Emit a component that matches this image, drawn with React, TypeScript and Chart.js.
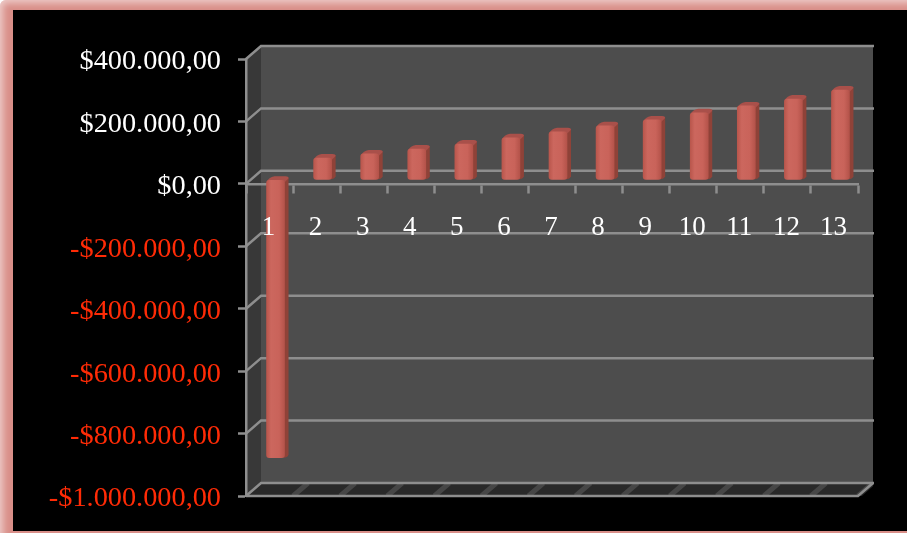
import React, { useEffect, useRef } from "react";
import { Chart, registerables } from "chart.js";

Chart.register(...registerables);

const categories = ["1", "2", "3", "4", "5", "6", "7", "8", "9", "10", "11", "12", "13"];
const seriesValues = [-890000, 70000, 83000, 99000, 115000, 135000, 154000, 173000, 192000, 215000, 237000, 259000, 288000];
const tickValues = [400000, 200000, 0, -200000, -400000, -600000, -800000, -1000000];
const tickLabels = ["$400.000,00", "$200.000,00", "$0,00", "-$200.000,00", "-$400.000,00", "-$600.000,00", "-$800.000,00", "-$1.000.000,00"];

const FONT = "'Liberation Serif', serif";
const GRID = "#8e8e8e";
const DX = 15;
const DY = -13;
const BAR_DX = 6;
const BAR_DY = -4;

const wallsPlugin = {
  id: "walls",
  beforeDraw(chart: any) {
    const { ctx, chartArea: a, scales } = chart;
    const { left: l, right: r, top: t, bottom: b } = a;
    const poly = (pts: number[][], fill: string) => {
      ctx.beginPath();
      pts.forEach((p, i) => (i ? ctx.lineTo(p[0], p[1]) : ctx.moveTo(p[0], p[1])));
      ctx.closePath();
      ctx.fillStyle = fill;
      ctx.fill();
    };
    ctx.save();
    poly([[l + DX, t + DY], [r + DX, t + DY], [r + DX, b + DY], [l + DX, b + DY]], "#4d4d4d");
    poly([[l, t], [l + DX, t + DY], [l + DX, b + DY], [l, b]], "#383838");
    poly([[l, b], [l + DX, b + DY], [r + DX, b + DY], [r, b]], "#292929");
    // floor stripes
    ctx.strokeStyle = "rgba(140,140,140,0.3)";
    ctx.lineWidth = 5;
    ctx.save();
    ctx.beginPath();
    ctx.rect(l, b + DY, r - l + DX, -DY);
    ctx.clip();
    categories.forEach((_, i) => {
      const x = l + ((i + 1) * (r - l)) / categories.length;
      ctx.beginPath();
      ctx.moveTo(x, b);
      ctx.lineTo(x + DX, b + DY);
      ctx.stroke();
    });
    ctx.restore();
    // back wall and side wall gridlines
    ctx.strokeStyle = GRID;
    ctx.lineWidth = 2.5;
    tickValues.forEach((v) => {
      const y = scales.y.getPixelForValue(v);
      ctx.beginPath();
      ctx.moveTo(l, y);
      ctx.lineTo(l + DX, y + DY);
      ctx.lineTo(r + DX + 1, y + DY);
      ctx.stroke();
    });
    ctx.beginPath();
    ctx.moveTo(l, b);
    ctx.lineTo(r, b);
    ctx.lineTo(r + DX, b + DY);
    ctx.stroke();
    ctx.restore();
  },
  beforeDatasetsDraw(chart: any) {
    const { ctx } = chart;
    ctx.save();
    ctx.translate(BAR_DX, BAR_DY);
    chart.getDatasetMeta(0).data.forEach((bar: any) => {
      const { x, y, base, width } = bar;
      const top = Math.min(y, base);
      const bottom = Math.max(y, base);
      const fl = x - width / 2;
      const fr = x + width / 2;
      // side
      ctx.beginPath();
      ctx.moveTo(fr - 1, top);
      ctx.lineTo(fr + 4, top - 3);
      ctx.lineTo(fr + 4, bottom - 3);
      ctx.quadraticCurveTo(fr + 3, bottom, fr - 1, bottom);
      ctx.closePath();
      ctx.fillStyle = "#8f4238";
      ctx.fill();
      // cap
      ctx.beginPath();
      ctx.moveTo(fl, top + 2);
      ctx.quadraticCurveTo(fl + 2, top - 3, fl + 8, top - 4);
      ctx.lineTo(fr + 1, top - 4);
      ctx.quadraticCurveTo(fr + 4, top - 4, fr + 4, top - 2);
      ctx.lineTo(fr, top + 2);
      ctx.closePath();
      ctx.fillStyle = "#a9504a";
      ctx.fill();
    });
  },
  afterDatasetsDraw(chart: any) {
    chart.ctx.restore();
  },
};

export default function App() {
  const ref = useRef<HTMLCanvasElement>(null);
  useEffect(() => {
    const chart = new Chart(ref.current as HTMLCanvasElement, {
      type: "bar",
      data: {
        labels: categories,
        datasets: [
          {
            data: seriesValues,
            barThickness: 18,
            borderRadius: 3,
            borderSkipped: false,
            backgroundColor: (c: any) => {
              const s = c.chart.scales.x;
              const x = s ? s.getPixelForValue(c.dataIndex) : NaN;
              if (!Number.isFinite(x)) return "#c9635a";
              const g = c.chart.ctx.createLinearGradient(x - 9, 0, x + 9, 0);
              g.addColorStop(0, "#b9564c");
              g.addColorStop(0.25, "#cc675e");
              g.addColorStop(0.7, "#c9635a");
              g.addColorStop(1, "#b4534a");
              return g;
            },
          },
        ],
      },
      plugins: [wallsPlugin],
      options: {
        animation: false,
        responsive: false,
        layout: { padding: { left: 0, right: 49, top: 59, bottom: 37 } },
        plugins: { legend: { display: false }, tooltip: { enabled: false }, title: { display: false } },
        scales: {
          x: {
            type: "category",
            position: { y: 0 },
            grid: { drawOnChartArea: false, tickLength: 8, tickColor: GRID, tickWidth: 2.5 },
            border: { color: GRID, width: 2.5 },
            ticks: {
              z: 1,
              color: "#ffffff",
              font: { family: FONT, size: 27 },
              padding: 20,
              labelOffset: -1,
              maxRotation: 0,
              autoSkip: false,
            },
          },
          y: {
            min: -1000000,
            max: 400000,
            afterFit: (s: any) => {
              s.width = 246;
            },
            afterBuildTicks: (s: any) => {
              s.ticks = tickValues.map((value) => ({ value }));
            },
            grid: { drawOnChartArea: false, tickLength: 8, tickColor: GRID, tickWidth: 2.5 },
            border: { color: GRID, width: 2.5 },
            ticks: {
              callback: (v: any) => tickLabels[tickValues.indexOf(Number(v))],
              color: (c: any) => (c.tick && c.tick.value < 0 ? "#ff2b06" : "#ffffff"),
              font: { family: FONT, size: 28.3 },
              padding: 17,
              labelOffset: 3,
            },
          },
        },
      },
    } as any);
    return () => chart.destroy();
  }, []);

  return (
    <div
      style={{
        position: "fixed",
        left: 0,
        top: 0,
        width: 907,
        height: 533,
        overflow: "hidden",
        background: "#ffffff",
      }}
    >
      <div
        style={{
          position: "absolute",
          left: 0,
          top: 0,
          width: 940,
          height: 560,
          borderRadius: 6,
          background: "#d98f89",
          boxShadow: "inset 0 0 7px 3px rgba(255,255,255,0.55)",
        }}
      />
      <div style={{ position: "absolute", left: 13, top: 10, width: 894, height: 521, background: "#000" }} />
      <canvas ref={ref} width={907} height={533} style={{ position: "absolute", left: 0, top: 0, display: "block" }} />
    </div>
  );
}
